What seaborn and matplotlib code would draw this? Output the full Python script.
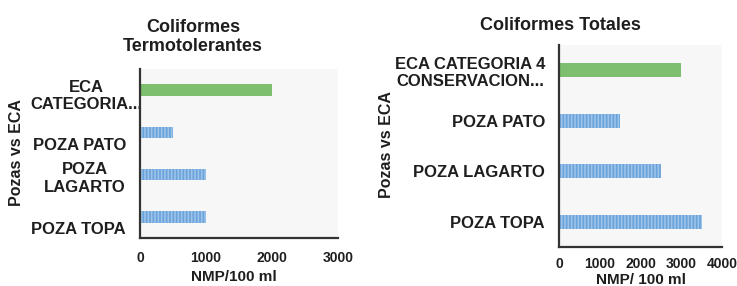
import matplotlib
matplotlib.use("Agg")
import matplotlib.pyplot as plt
import matplotlib.transforms as mtransforms
import seaborn as sns
import pandas as pd

# ---- data ----
categories = ["ECA", "POZA PATO", "POZA LAGARTO", "POZA TOPA"]
tipo = ["ECA", "Poza", "Poza", "Poza"]
termo_values = [2000, 500, 1000, 1000]
totales_values = [3000, 1500, 2500, 3500]
termo_labels = ["ECA\nCATEGORIA...", "POZA PATO", "POZA\nLAGARTO", "POZA TOPA"]
totales_labels = ["ECA CATEGORIA 4\nCONSERVACION...", "POZA PATO", "POZA LAGARTO", "POZA TOPA"]
termo_ticks = [0, 1000, 2000, 3000]
totales_ticks = [0, 1000, 2000, 3000, 4000]
title_left = "Coliformes\nTermotolerantes"
title_right = "Coliformes Totales"
xlabel_left = "NMP/100 ml"
xlabel_right = "NMP/ 100 ml"
ylabel = "Pozas vs ECA"

sns.set_theme(style="white")
plt.rcParams["font.family"] = ["Liberation Sans", "DejaVu Sans"]
plt.rcParams["hatch.linewidth"] = 1.2

BLUE = "#6aa3da"
BLUE_STRIPE = "#9cc3ea"
GREEN = "#7dbf6e"
BG = "#f7f7f7"
TXT = "#1e1e1e"
palette = {"ECA": GREEN, "Poza": BLUE}

fig = plt.figure(figsize=(7.37, 2.86), dpi=100)
W, H = 737, 286

def axes_px(x0, x1, y0, y1):
    return fig.add_axes([x0 / W, 1 - y1 / H, (x1 - x0) / W, (y1 - y0) / H])

ax1 = axes_px(140, 338, 69, 238)
ax2 = axes_px(559, 722, 45, 247)

def draw(ax, values, labels, ticks, xmax, width, xlabel, xlab_xy, ylab_xy, tickpad, label_offsets):
    df = pd.DataFrame({"cat": categories, "val": values, "tipo": tipo})
    sns.barplot(data=df, y="cat", x="val", hue="tipo", palette=palette, dodge=False,
                width=width, orient="h", ax=ax, legend=False, saturation=1)
    for p in ax.patches:
        fc = p.get_facecolor()
        if abs(fc[2] - matplotlib.colors.to_rgba(BLUE)[2]) < 0.02:
            p.set_hatch("|||||")
            p.set_edgecolor(BLUE_STRIPE)
            p.set_linewidth(0)
        else:
            p.set_edgecolor(GREEN)
            p.set_linewidth(0)
    ax.set_facecolor(BG)
    ax.set_xlim(0, xmax)
    ax.set_ylim(3.5, -0.5)
    ax.set_xticks(ticks)
    ax.set_xticklabels([str(t) for t in ticks], fontsize=10, fontweight="bold", color=TXT)
    ax.set_yticks(range(len(categories)))
    ax.set_yticklabels(labels, fontsize=12, fontweight="bold", color=TXT,
                       multialignment="center")
    ax.tick_params(axis="both", length=0)
    ax.tick_params(axis="x", pad=tickpad)
    ax.tick_params(axis="y", pad=10)
    for lab, (dx, dy) in zip(ax.get_yticklabels(), label_offsets):
        lab.set_transform(lab.get_transform() +
                          mtransforms.ScaledTranslation(dx / 100, -dy / 100, fig.dpi_scale_trans))
    for s in ["top", "right"]:
        ax.spines[s].set_visible(False)
    for s in ["left", "bottom"]:
        ax.spines[s].set_color("#333333")
        ax.spines[s].set_linewidth(1.6)
    ax.set_xlabel(xlabel, fontsize=11, fontweight="bold", color=TXT)
    ax.set_ylabel(ylabel, fontsize=11.5, fontweight="bold", color=TXT)
    ax.xaxis.set_label_coords(*xlab_xy)
    ax.yaxis.set_label_coords(*ylab_xy)
    ax.grid(False)

draw(ax1, termo_values, termo_labels, termo_ticks, 3000, 0.27, xlabel_left,
     (0.475, -0.19), (-0.585, 0.503), 9, [(16, 3), (0, 12), (0, 1), (0, 11)])
draw(ax2, totales_values, totales_labels, totales_ticks, 4000, 0.28, xlabel_right,
     (0.5, -0.13), (-1.012, 0.505), 7, [(0, 0), (0, 0), (0, 0), (0, 0)])

fig.text(193 / W, 1 - 37 / H, title_left, ha="center", va="center", fontsize=13,
         fontweight="bold", color=TXT, linespacing=1.15)
fig.text(560 / W, 1 - 25 / H, title_right, ha="center", va="center", fontsize=13,
         fontweight="bold", color=TXT)

fig.savefig("out.png", dpi=100, facecolor="white")
